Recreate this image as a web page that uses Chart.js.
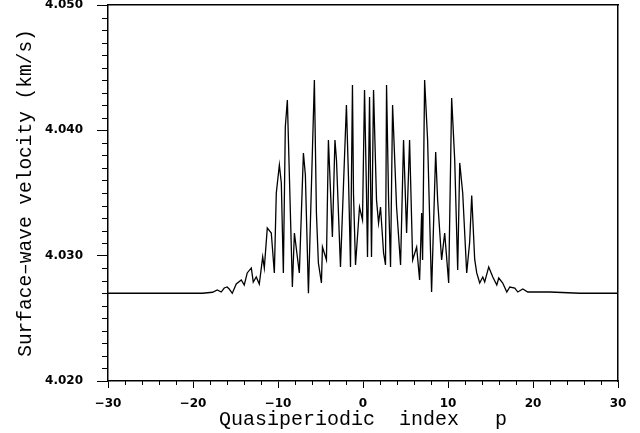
<!DOCTYPE html>
<html><head><meta charset="utf-8">
<script src="https://cdn.jsdelivr.net/npm/chart.js@4/dist/chart.umd.min.js"></script>
<style>html,body{margin:0;padding:0;background:#fff;}</style>
</head><body>
<canvas id="c" width="640" height="433"></canvas>
<script>
// Quasiperiodic index p (x) and surface-wave velocity in km/s (y)
const indexP = [-30, -24, -20.1, -18.9, -17.7, -17.15, -16.68, -16.33, -15.98, -15.74, -15.38, -14.91, -14.32, -13.97, -13.62, -13.14, -12.91, -12.56, -12.2, -11.8, -11.61, -11.26, -10.79, -10.43, -10.2, -9.84, -9.61, -9.37, -9.14, -8.9, -8.31, -8.07, -7.49, -7.01, -6.78, -6.42, -5.72, -5.48, -5.25, -4.89, -4.77, -4.3, -4.07, -3.6, -3.3, -3.12, -2.65, -1.95, -1.71, -1.47, -1.24, -1.12, -0.88, -0.41, -0.06, 0.18, 0.41, 0.53, 0.77, 1.0, 1.24, 1.59, 1.83, 2.06, 2.42, 2.65, 2.77, 3.01, 3.24, 3.48, 3.95, 4.42, 4.77, 5.13, 5.48, 5.84, 6.31, 6.66, 6.9, 7.01, 7.25, 7.6, 8.07, 8.55, 8.78, 9.25, 9.61, 10.08, 10.43, 10.79, 11.14, 11.38, 11.73, 12.2, 12.55, 12.79, 13.14, 13.38, 13.73, 14.09, 14.32, 14.79, 15.27, 15.74, 15.97, 16.44, 16.92, 17.27, 17.86, 18.21, 18.8, 19.39, 20.45, 22, 25.5, 30];
const velocity = [4.0270, 4.0270, 4.0270, 4.0270, 4.02708, 4.02726, 4.0271, 4.02742, 4.0275, 4.02734, 4.0270, 4.02774, 4.02806, 4.02766, 4.02862, 4.02902, 4.0279, 4.0283, 4.02774, 4.0299, 4.02902, 4.03221, 4.03181, 4.02862, 4.035, 4.03724, 4.0358, 4.02862, 4.04027, 4.04242, 4.0275, 4.03181, 4.02862, 4.03819, 4.03644, 4.0270, 4.04402, 4.0334, 4.02942, 4.02782, 4.03069, 4.02966, 4.03923, 4.0315, 4.03923, 4.03763, 4.0291, 4.04202, 4.03628, 4.0291, 4.04362, 4.035, 4.02926, 4.03388, 4.03285, 4.04322, 4.035, 4.0299, 4.04266, 4.0299, 4.04322, 4.03444, 4.03261, 4.03388, 4.03021, 4.02926, 4.04362, 4.03444, 4.0291, 4.04202, 4.03388, 4.02926, 4.03923, 4.03181, 4.03923, 4.02966, 4.03069, 4.02806, 4.0334, 4.02966, 4.04402, 4.03923, 4.0271, 4.03827, 4.03444, 4.02966, 4.03181, 4.02782, 4.04258, 4.03763, 4.02886, 4.0374, 4.035, 4.02862, 4.03109, 4.0348, 4.0297, 4.02862, 4.02782, 4.0283, 4.0279, 4.0291, 4.0283, 4.02766, 4.02822, 4.02782, 4.0271, 4.0275, 4.02742, 4.0271, 4.02734, 4.0271, 4.0271, 4.0271, 4.0270, 4.0270];
const xTickValues = [-30, -20, -10, 0, 10, 20, 30];
const yTickValues = [4.020, 4.030, 4.040, 4.050];
const xMinorStep = 2;
const yMinorStep = 0.001;
const xTitle = 'Quasiperiodic  index   p';
const yTitle = 'Surface\u2013wave velocity (km/s)';

const points = indexP.map((p, i) => ({x: p, y: velocity[i]}));

const minorTicks = {
  id: 'minorTicks',
  afterDraw(chart) {
    const {ctx} = chart;
    const xs = chart.scales.x, ys = chart.scales.y;
    ctx.save();
    ctx.strokeStyle = '#000';
    ctx.lineWidth = 1;
    ctx.beginPath();
    const nx = Math.round((xs.max - xs.min) / xMinorStep);
    for (let i = 0; i <= nx; i++) {
      const v = xs.min + i * xMinorStep;
      if (xTickValues.includes(v)) continue;
      const px = Math.round(xs.getPixelForValue(v)) + 0.5;
      ctx.moveTo(px, ys.bottom);
      ctx.lineTo(px, ys.bottom + 4);
    }
    const ny = Math.round((ys.max - ys.min) / yMinorStep);
    for (let i = 0; i <= ny; i++) {
      if (i % 10 === 0) continue;
      const v = ys.min + i * yMinorStep;
      const py = Math.round(ys.getPixelForValue(v)) + 0.5;
      ctx.moveTo(xs.left, py);
      ctx.lineTo(xs.left - 6, py);
    }
    ctx.stroke();
    ctx.restore();
  }
};

const tickFont = {family: 'DejaVu Sans', size: 12, weight: 'bold'};
const xTitleFont = {family: 'Liberation Mono', size: 20};
const yTitleFont = {family: 'Liberation Mono', size: 19.5};

new Chart(document.getElementById('c'), {
  type: 'scatter',
  data: {
    datasets: [{
      data: points,
      showLine: true,
      borderColor: '#000',
      borderWidth: 1.3,
      pointRadius: 0,
      tension: 0,
      fill: false
    }]
  },
  options: {
    responsive: false,
    animation: false,
    devicePixelRatio: 1,
    layout: {padding: {top: 5, right: 22, bottom: 0, left: 0}},
    plugins: {legend: {display: false}, tooltip: {enabled: false}},
    scales: {
      x: {
        type: 'linear', position: 'bottom', min: -30, max: 30,
        afterBuildTicks: s => { s.ticks = xTickValues.map(v => ({value: v})); },
        afterFit: s => { s.height = 52; s.paddingLeft = 0; s.paddingRight = 0; },
        ticks: {color: '#000', font: tickFont, padding: 9, maxRotation: 0,
          callback: v => v < 0 ? '\u2212' + Math.abs(v) : String(v)},
        grid: {drawOnChartArea: false, drawTicks: true, tickLength: 7, tickColor: '#000', tickWidth: 1},
        border: {display: true, color: '#000', width: 1.5},
        title: {display: true, text: xTitle, color: '#000', font: xTitleFont, padding: {top: 0, bottom: 1}}
      },
      y: {
        type: 'linear', position: 'left', min: 4.020, max: 4.050,
        afterBuildTicks: s => { s.ticks = yTickValues.map(v => ({value: v})); },
        afterFit: s => { s.width = 108; s.paddingTop = 0; s.paddingBottom = 0; },
        ticks: {color: '#000', font: tickFont, padding: 14,
          callback: v => Number(v).toFixed(3)},
        grid: {drawOnChartArea: false, drawTicks: true, tickLength: 11, tickColor: '#000', tickWidth: 1},
        border: {display: true, color: '#000', width: 1.5},
        title: {display: true, text: yTitle, color: '#000', font: yTitleFont, padding: {top: 14, bottom: 0}}
      },
      xTop: {
        type: 'linear', position: 'top', min: -30, max: 30,
        afterFit: s => { s.height = 0; s.paddingLeft = 0; s.paddingRight = 0; },
        ticks: {display: false},
        grid: {drawOnChartArea: false, drawTicks: false},
        border: {display: true, color: '#000', width: 1.5}
      },
      yRight: {
        type: 'linear', position: 'right', min: 4.020, max: 4.050,
        afterFit: s => { s.width = 0; s.paddingTop = 0; s.paddingBottom = 0; },
        ticks: {display: false},
        grid: {drawOnChartArea: false, drawTicks: false},
        border: {display: true, color: '#000', width: 1.5}
      }
    }
  },
  plugins: [minorTicks]
});
</script>
</body></html>
